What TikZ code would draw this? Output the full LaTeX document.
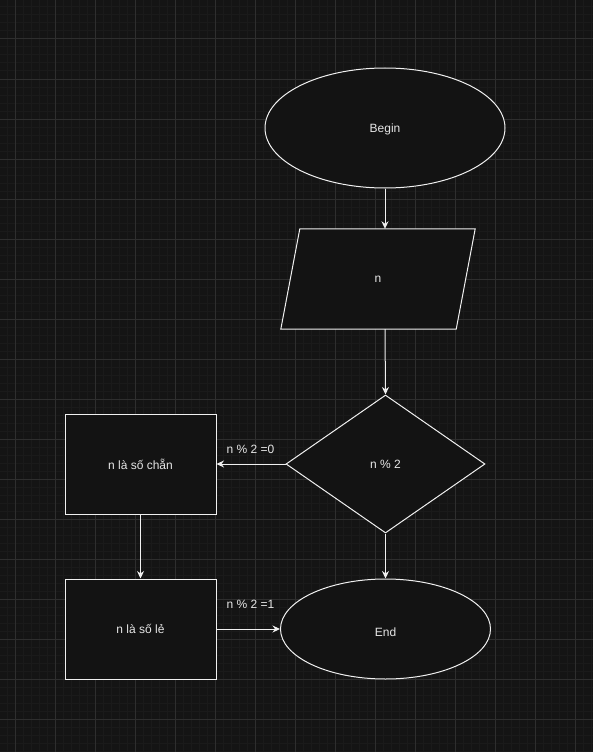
\documentclass[tikz,border=0pt]{standalone}
\usepackage{fontspec}
\setmainfont{Liberation Sans}
\usetikzlibrary{shapes.geometric,arrows.meta}
\definecolor{canvas}{HTML}{141414}
\definecolor{gridminor}{HTML}{1A1A1A}
\definecolor{gridmajor}{HTML}{2E2E2E}
\definecolor{shapefill}{HTML}{131313}
\definecolor{ink}{HTML}{F0F0F0}
\definecolor{txt}{HTML}{E6E6E6}
\tikzset{
  shapebox/.style={draw=ink, fill=shapefill, line width=1pt, inner sep=0pt,
    text=txt, font=\fontsize{12}{14}\selectfont},
  terminal/.style={shapebox, ellipse},
  process/.style={shapebox, rectangle, minimum width=151pt, minimum height=100pt},
  decision/.style={shapebox, diamond, minimum width=199pt, minimum height=138pt},
  iobox/.style={inner sep=0pt, minimum width=194pt, minimum height=100pt,
    text=txt, font=\fontsize{12}{14}\selectfont},
  flow/.style={draw=ink, line width=1pt, -{Stealth[length=7.5pt,width=7pt]}},
  flowlabel/.style={text=txt, font=\fontsize{12}{14}\selectfont, inner sep=0pt}
}
\begin{document}
\begin{tikzpicture}[x=1pt,y=-1pt]
  % canvas and grid
  \fill[canvas] (0,0) rectangle (593,752);
  \useasboundingbox (0,0) rectangle (593,752);
  \foreach \k in {7,15,...,591} \draw[gridminor, line width=1pt] (\k,0) -- (\k,752);
  \foreach \k in {7,15,...,751} \draw[gridminor, line width=1pt] (0,\k) -- (593,\k);
  \foreach \k in {15,55,...,591} \draw[gridmajor, line width=1pt] (\k,0) -- (\k,752);
  \foreach \k in {39,79,...,751} \draw[gridmajor, line width=1pt] (0,\k) -- (593,\k);

  % nodes
  \node[terminal, minimum width=240pt, minimum height=120pt] (begin) at (385,128) {};
  \node[flowlabel] at ([yshift=-1pt]begin.center) {Begin};
  \node[iobox] (input) at (378,279) {};
  \draw[draw=ink, fill=shapefill, line width=1pt]
    ([xshift=19pt]input.north west) -- (input.north east)
    -- ([xshift=-19pt]input.south east) -- (input.south west) -- cycle;
  \node[iobox] at (input.center) {n};
  \node[decision] (test) at (385.5,464) {n \% 2};
  \node[process] (even) at (140.5,464) {n là số chẵn};
  \node[process] (odd) at (140.5,629) {n là số lẻ};
  \node[terminal, minimum width=210pt, minimum height=100pt] (end) at (385.5,629) {};
  \node[flowlabel] at ([yshift=-3pt]end.center) {End};

  % connectors
  \draw[flow] (begin.south) -- (begin.south |- input.north);
  \draw[flow] (begin.south |- input.south) -- (test.north);
  \draw[flow] (test.west) -- (even.east);
  \draw[flow] (even.south) -- (odd.north);
  \draw[flow] (odd.east) -- (end.west);
  \draw[flow] (test.south) -- (end.north);

  % branch labels
  \node[flowlabel] (l0) at (250.5,449) {n \% 2 =0};
  \node[flowlabel] (l1) at (250.5,604) {n \% 2 =1};
\end{tikzpicture}
\end{document}
